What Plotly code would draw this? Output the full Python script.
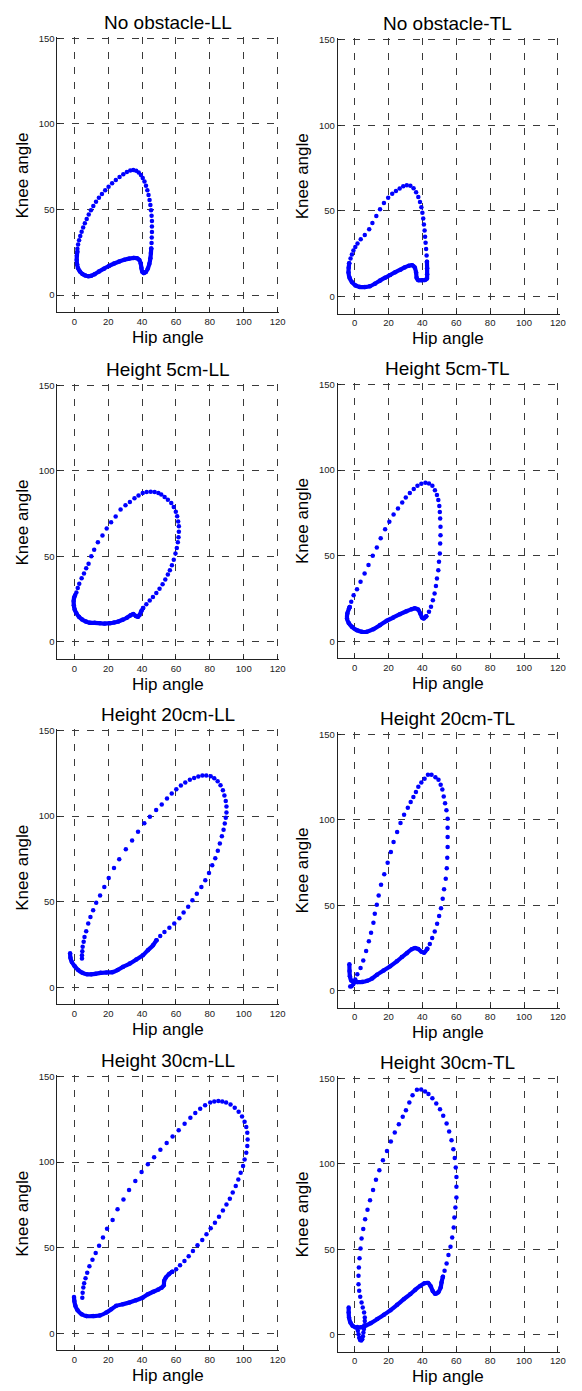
import plotly.graph_objects as go

TITLES = ["No obstacle-LL", "No obstacle-TL", "Height 5cm-LL", "Height 5cm-TL",
          "Height 20cm-LL", "Height 20cm-TL", "Height 30cm-LL", "Height 30cm-TL"]
X_TICKS = [0, 20, 40, 60, 80, 100, 120]
Y_TICKS = [0, 50, 100, 150]
X_LABEL = "Hip angle"
Y_LABEL = "Knee angle"

# ---- Panel 1: No obstacle-LL ----
P1_SWING_HIP = [1.8, 2.2, 2.8, 3.5, 4.3, 5.2, 6.2, 7.3, 8.5, 9.8, 11.2, 12.8, 14.5, 16.3, 18.2, 20.2,
                22.3, 24.5, 26.7, 28.9, 31.0, 33.0, 34.8, 36.5, 38.0, 39.3, 40.4, 41.4, 42.3, 43.1,
                43.8, 44.4, 44.9, 45.3, 45.6, 45.8, 45.8, 45.8, 45.7, 45.6, 45.4]
P1_SWING_KNEE = [27.0, 29.5, 32.0, 34.5, 37.0, 39.5, 42.0, 44.5, 47.0, 49.5, 52.0, 54.5, 56.8, 59.0, 61.2, 63.3,
                 65.3, 67.2, 69.0, 70.6, 71.9, 72.8, 73.0, 72.6, 71.6, 70.2, 68.4, 66.3, 63.9, 61.3,
                 58.5, 55.6, 52.6, 49.5, 46.4, 43.2, 40.0, 36.8, 33.6, 30.4, 27.2]
P1_STANCE_HIP = [45.4, 45.2, 44.9, 44.3, 43.4, 42.2, 41.0, 40.1, 39.6, 39.2, 38.4, 37.0, 35.0, 32.5, 29.5,
                 26.5, 23.5, 20.5, 17.5, 14.5, 12.0, 10.0, 8.2, 6.5, 4.8, 3.3, 2.2, 1.6, 1.4, 1.5, 1.8]
P1_STANCE_KNEE = [27.2, 24.5, 21.5, 18.3, 15.5, 13.4, 12.8, 13.6, 15.8, 18.4, 20.5, 21.5, 21.7, 21.3, 20.6,
                  19.6, 18.4, 17.0, 15.4, 13.7, 12.2, 11.3, 11.0, 11.4, 12.3, 13.7, 15.6, 18.0, 20.5, 23.0, 25.5]

# ---- Panel 2: No obstacle-TL ----
P2_SWING_HIP = [-3.2, -2.4, -1.6, -0.7, 0.4, 1.7, 3.6, 6.0, 8.6, 10.5, 12.8, 15.0, 17.3, 19.8, 22.2, 24.4,
                26.6, 28.7, 30.8, 32.9, 34.8, 36.3, 37.6, 38.6, 39.4, 40.0, 40.5, 40.9, 41.3, 41.6, 41.9,
                42.2, 42.5, 42.7]
P2_SWING_KNEE = [19.5, 22.2, 24.6, 26.9, 29.0, 31.0, 33.4, 36.0, 39.3, 43.0, 47.0, 51.0, 54.7, 57.8, 60.0, 61.7,
                 63.2, 64.4, 65.1, 64.8, 63.3, 61.0, 58.2, 55.3, 52.2, 49.0, 45.6, 42.1, 38.6, 35.0, 31.4,
                 27.7, 24.0, 20.3]
P2_STANCE_HIP = [42.7, 42.8, 42.8, 42.7, 41.5, 39.5, 37.5, 36.6, 36.3, 35.5, 34.0, 32.0, 29.5, 27.0, 24.0, 21.0,
                 18.0, 15.0, 12.0, 9.0, 6.0, 3.0, 0.5, -1.5, -3.0, -3.6, -3.5, -3.2]
P2_STANCE_KNEE = [20.3, 16.5, 13.0, 10.5, 9.6, 9.5, 9.6, 11.0, 14.0, 17.0, 18.3, 18.0, 17.0, 15.7, 14.2, 12.6,
                  11.0, 9.3, 7.5, 6.0, 5.5, 5.6, 6.5, 8.3, 11.0, 14.0, 16.8, 19.5]

# ---- Panel 3: Height 5cm-LL ----
P3_SWING_HIP = [1.2, 2.0, 2.9, 4.3, 5.7, 7.0, 8.4, 10.0, 11.7, 13.9, 16.6, 19.1, 21.7, 24.4, 27.3, 30.2,
                32.8, 35.5, 37.9, 40.4, 42.7, 45.1, 47.4, 49.6, 51.3, 53.3, 55.2, 57.2, 58.7, 59.9, 60.7,
                61.3, 61.7, 61.7, 61.5, 61.1, 60.5, 59.7, 58.7, 57.6, 56.4, 55.2, 53.7, 52.1, 50.3, 48.4,
                46.4, 44.5, 42.5, 40.6]
P3_SWING_KNEE = [29.0, 31.6, 34.1, 37.2, 40.0, 43.1, 45.8, 50.1, 54.0, 58.3, 62.2, 66.3, 70.0, 73.3, 77.4, 79.9,
                 81.9, 84.0, 85.6, 87.1, 87.7, 87.9, 87.7, 87.1, 86.2, 84.8, 83.2, 81.3, 78.9, 76.2, 73.5,
                 70.4, 67.6, 64.5, 61.2, 58.3, 55.0, 51.7, 48.1, 44.8, 41.9, 39.4, 36.5, 33.7, 31.2, 28.7,
                 26.3, 24.2, 22.0, 19.9]
P3_STANCE_HIP = [40.6, 39.5, 38.6, 37.6, 36.3, 34.8, 33.2, 31.0, 28.5, 26.0, 23.5, 21.0, 18.0, 15.0, 12.0, 9.0,
                 6.8, 4.6, 2.7, 1.2, 0.2, -0.3, -0.4, -0.1, 0.5]
P3_STANCE_KNEE = [19.9, 18.0, 16.0, 14.7, 15.2, 16.3, 15.6, 14.2, 13.0, 12.0, 11.4, 11.0, 10.8, 11.0, 11.2, 11.3,
                  12.0, 13.2, 14.8, 16.8, 19.0, 21.5, 24.0, 26.0, 27.5]

# ---- Panel 4: Height 5cm-TL ----
P4_SWING_HIP = [-2.9, -2.0, -0.6, 1.4, 3.5, 5.9, 8.2, 10.7, 13.1, 15.4, 18.0, 20.5, 23.0, 25.6, 28.1, 30.2,
                32.6, 34.9, 37.1, 39.4, 41.8, 43.9, 45.9, 47.4, 48.6, 49.4, 50.0, 50.3, 50.5, 50.7, 50.7,
                50.5, 50.3, 49.8, 49.4, 48.6, 48.0, 47.2, 46.2, 45.1, 43.9, 42.3]
P4_SWING_KNEE = [20.0, 23.0, 26.9, 30.4, 34.7, 39.6, 44.6, 49.9, 54.8, 60.2, 65.5, 69.8, 74.1, 77.6, 81.1, 84.0,
                 86.7, 88.9, 90.8, 92.0, 92.6, 92.2, 90.8, 88.3, 85.4, 82.5, 79.1, 75.6, 71.7, 66.9, 62.0,
                 57.1, 51.2, 46.4, 41.5, 36.6, 32.2, 27.9, 24.0, 20.1, 17.2, 14.6]
P4_STANCE_HIP = [42.3, 40.8, 39.8, 38.8, 37.5, 35.5, 33.6, 30.6, 26.7, 22.8, 18.9, 15.0, 11.1, 7.2, 4.3, 1.4,
                 -1.6, -3.5, -4.5, -4.3, -3.3, -2.9]
P4_STANCE_KNEE = [14.6, 13.3, 13.8, 16.2, 18.5, 19.2, 18.7, 17.5, 15.8, 13.8, 11.9, 9.4, 7.0, 5.5, 5.5, 6.4,
                  8.4, 10.7, 13.3, 16.2, 19.1, 20.0]

# ---- Panel 5: Height 20cm-LL ----
P5_SWING_HIP = [4.5, 4.5, 4.7, 4.9, 5.5, 6.0, 7.0, 8.2, 9.5, 11.1, 12.9, 15.2, 17.7, 20.3, 23.4, 26.5, 30.4,
                34.1, 37.6, 41.3, 44.6, 48.3, 51.6, 54.7, 57.5, 60.2, 62.9, 65.5, 68.2, 70.7, 73.2, 75.6,
                77.9, 80.5, 82.6, 84.6, 86.3, 87.7, 88.6, 89.4, 89.8, 89.8, 89.4, 88.8, 88.1, 87.1, 85.9,
                84.7, 83.2, 81.4, 79.5, 77.3, 75.0, 72.3, 69.7, 67.2, 64.5, 62.0, 59.0, 56.1, 53.2, 50.7,
                48.5]
P5_SWING_KNEE = [16.8, 18.7, 21.0, 23.6, 26.5, 29.4, 32.7, 37.2, 41.1, 45.0, 49.3, 53.6, 58.6, 63.9, 69.7, 74.8,
                 80.6, 85.7, 90.8, 95.8, 99.7, 103.6, 106.8, 110.3, 113.2, 115.7, 117.9, 119.6, 121.2, 122.3,
                 123.1, 123.7, 123.7, 123.3, 122.2, 120.4, 118.1, 115.1, 112.0, 108.9, 105.6, 102.1, 99.0,
                 95.7, 92.1, 88.3, 84.0, 79.7, 75.4, 71.3, 66.8, 62.5, 58.6, 54.7, 50.8, 47.0, 43.6, 40.3,
                 37.2, 34.7, 32.3, 30.0, 27.5]
P5_STANCE_HIP = [48.5, 46.4, 43.4, 40.5, 36.6, 32.7, 28.8, 25.5, 22.5, 19.0, 15.5, 12.5, 10.0, 7.4, 4.8, 2.3,
                 0.2, -1.5, -2.3, -2.5]
P5_STANCE_KNEE = [27.5, 24.5, 21.6, 18.7, 16.2, 13.8, 11.9, 10.0, 8.8, 8.6, 8.4, 7.8, 7.5, 7.6, 8.4, 10.0,
                  12.3, 14.8, 17.2, 19.8]

# ---- Panel 6: Height 20cm-TL ----
P6_SWING_HIP = [-2.6, -1.8, -0.8, 0.4, 1.6, 3.5, 5.1, 6.8, 8.4, 9.7, 11.1, 11.9, 13.1, 14.2, 15.6, 17.5, 19.5,
                21.4, 23.0, 25.1, 27.1, 29.2, 31.4, 33.1, 34.7, 36.2, 37.6, 39.4, 41.3, 43.3, 45.4, 47.7,
                49.5, 50.8, 51.8, 52.6, 53.4, 54.2, 54.9, 54.9, 54.9, 54.9, 54.7, 54.4, 53.8, 52.8, 52.0,
                51.0, 49.9, 48.7, 47.3, 45.8, 44.4, 42.9]
P6_SWING_KNEE = [2.5, 2.6, 3.8, 6.6, 9.6, 13.3, 17.7, 23.2, 29.0, 33.9, 39.8, 45.0, 50.3, 55.7, 62.0, 68.2, 74.9,
                 81.1, 87.0, 92.8, 98.1, 102.9, 107.0, 110.3, 113.3, 116.2, 119.3, 121.7, 124.0, 126.3,
                 126.3, 124.9, 123.4, 120.5, 117.7, 113.6, 109.7, 105.5, 100.6, 95.3, 89.9, 84.0, 77.8,
                 71.7, 65.5, 59.3, 53.8, 48.3, 43.7, 39.2, 34.7, 30.8, 27.3, 24.6]
P6_STANCE_HIP = [42.9, 41.0, 39.5, 37.6, 35.7, 33.7, 30.8, 27.9, 24.9, 21.0, 17.1, 13.2, 10.3, 7.4, 4.5, 1.6,
                 -0.4, -2.0, -2.8, -3.0, -3.1]
P6_STANCE_KNEE = [24.6, 22.3, 22.8, 24.4, 25.0, 24.3, 22.0, 19.7, 17.2, 14.4, 11.9, 9.4, 7.2, 5.8, 5.2, 5.1,
                  5.3, 6.0, 8.5, 11.5, 15.5]

# ---- Panel 7: Height 30cm-LL ----
P7_SWING_HIP = [4.7, 4.9, 5.3, 5.8, 6.6, 7.6, 8.9, 10.7, 12.6, 14.6, 16.9, 19.3, 22.6, 25.5, 29.0, 32.3, 36.0,
                39.7, 43.4, 47.1, 50.8, 54.5, 58.0, 61.6, 65.1, 68.5, 71.4, 74.3, 77.2, 80.2, 82.6, 85.0,
                87.3, 89.6, 92.2, 94.7, 97.0, 99.0, 100.5, 101.5, 102.1, 102.3, 102.1, 101.5, 100.5, 99.6,
                98.2, 96.8, 95.3, 93.5, 91.8, 89.8, 87.7, 85.4, 83.0, 80.5, 78.0, 75.5, 72.7, 70.0, 67.5,
                65.0, 62.4, 60.1, 57.8]
P7_SWING_KNEE = [20.8, 23.7, 26.7, 29.2, 32.1, 35.4, 39.1, 43.0, 46.9, 51.2, 55.9, 61.1, 66.2, 72.4, 78.1, 83.7,
                 89.0, 94.2, 98.7, 102.9, 107.2, 111.2, 115.0, 118.6, 122.4, 125.9, 128.7, 131.2, 133.3,
                 134.9, 135.5, 135.7, 135.5, 134.9, 133.7, 131.8, 129.5, 126.7, 123.6, 120.5, 117.2, 113.3,
                 109.4, 105.5, 101.6, 97.7, 93.8, 89.9, 86.0, 82.2, 78.6, 75.3, 71.8, 68.1, 64.6, 61.3,
                 57.8, 54.5, 51.4, 48.1, 45.0, 42.2, 39.7, 37.4, 36.0]
P7_STANCE_HIP = [57.8, 55.8, 54.0, 53.0, 52.8, 51.5, 49.5, 46.5, 43.5, 40.3, 36.4, 32.5, 28.6, 24.7, 21.8, 18.9,
                 15.0, 11.1, 7.2, 4.3, 1.9, 0.6, 0.0, -0.2]
P7_STANCE_KNEE = [36.0, 34.5, 32.5, 30.5, 28.0, 26.6, 25.5, 24.2, 22.8, 20.8, 19.3, 17.9, 16.9, 16.0, 14.0, 12.1,
                  10.3, 10.0, 10.0, 11.1, 13.4, 16.0, 18.9, 21.2]

# ---- Panel 8: Height 30cm-TL ----
P8_SWING_HIP = [1.6, 1.9, 2.3, 2.7, 3.2, 3.9, 4.5, 4.9, 5.2, 5.5, 5.8, 6.0, 6.0, 5.6, 4.8, 4.1, 3.3, 2.7, 2.3,
                2.3, 2.5, 2.9, 3.5, 4.1, 5.1, 6.2, 7.6, 9.1, 10.9, 12.6, 14.6, 16.7, 19.1, 21.4, 23.7, 26.1,
                28.4, 30.3, 32.3, 34.2, 36.8, 39.3, 41.6, 43.6, 45.9, 48.2, 50.4, 52.3, 54.3, 55.8, 57.2,
                58.3, 59.1, 59.7, 60.1, 60.1, 60.1, 59.5, 58.9, 58.5, 57.6, 56.6, 55.4, 54.3, 53.1, 52.1]
P8_SWING_KNEE = [4.6, 2.4, 0.3, -1.7, -3.0, -3.4, -2.6, -0.8, 1.3, 3.4, 5.6, 8.0, 10.1, 13.1, 16.0, 18.9, 22.2,
                 25.7, 29.6, 34.5, 39.4, 44.8, 50.4, 56.3, 61.8, 67.6, 73.1, 78.7, 84.7, 90.6, 96.2, 102.1,
                 107.5, 113.0, 118.3, 123.1, 127.4, 131.3, 135.8, 140.1, 143.2, 143.4, 142.2, 140.7, 138.3,
                 135.2, 131.9, 128.0, 123.5, 118.8, 113.8, 108.5, 103.3, 97.8, 92.3, 86.5, 80.3, 74.4,
                 68.6, 62.7, 56.9, 51.4, 46.6, 41.7, 37.4, 33.9]
P8_STANCE_HIP = [52.1, 51.3, 50.8, 49.4, 47.5, 46.1, 44.9, 43.4, 41.2, 38.7, 35.8, 32.9, 29.0, 25.1, 21.2, 17.3,
                 13.4, 9.5, 6.6, 3.7, 0.8, -1.2, -2.5, -3.3, -3.5, -3.5]
P8_STANCE_KNEE = [33.9, 30.6, 27.7, 24.9, 24.0, 25.6, 28.4, 30.3, 30.1, 28.6, 26.3, 23.8, 20.8, 17.5, 14.4, 11.7,
                  9.2, 6.8, 5.4, 4.4, 4.3, 5.3, 7.2, 10.1, 13.1, 16.0]

PANELS = [
    (P1_SWING_HIP, P1_SWING_KNEE, P1_STANCE_HIP, P1_STANCE_KNEE),
    (P2_SWING_HIP, P2_SWING_KNEE, P2_STANCE_HIP, P2_STANCE_KNEE),
    (P3_SWING_HIP, P3_SWING_KNEE, P3_STANCE_HIP, P3_STANCE_KNEE),
    (P4_SWING_HIP, P4_SWING_KNEE, P4_STANCE_HIP, P4_STANCE_KNEE),
    (P5_SWING_HIP, P5_SWING_KNEE, P5_STANCE_HIP, P5_STANCE_KNEE),
    (P6_SWING_HIP, P6_SWING_KNEE, P6_STANCE_HIP, P6_STANCE_KNEE),
    (P7_SWING_HIP, P7_SWING_KNEE, P7_STANCE_HIP, P7_STANCE_KNEE),
    (P8_SWING_HIP, P8_SWING_KNEE, P8_STANCE_HIP, P8_STANCE_KNEE),
]

# ---- layout (pixel geometry of each axes box) ----
W, H = 582, 1391
PX_PER_UNIT_X = 222.5 / 130.0
PX_PER_UNIT_Y = 274.5 / 160.0
X_RANGE = [-10, 121]          # a little headroom so the 120 grid line is kept
Y_RANGE = [-10, 151]          # a little headroom so the 150 grid line is kept
COL_LEFT = [58.0, 341.2]
PANEL_TOP = [34.5, 36.0, 382.5, 381.7, 728.7, 732.3, 1075.7, 1077.3]   # pixel y of value 150
PLOT_W = (X_RANGE[1] - X_RANGE[0]) * PX_PER_UNIT_X
PLOT_H = (Y_RANGE[1] - Y_RANGE[0]) * PX_PER_UNIT_Y
TOP_PAD = (Y_RANGE[1] - 150) * PX_PER_UNIT_Y

BLUE = "#0000ff"
FONT = "Liberation Sans, Arial, sans-serif"

fig = go.Figure()
annotations = []
layout_axes = {}

for i, (sh, sk, th, tk) in enumerate(PANELS):
    n = i + 1
    xa = "x" if n == 1 else f"x{n}"
    ya = "y" if n == 1 else f"y{n}"
    x0 = COL_LEFT[i % 2]
    x1 = x0 + PLOT_W
    top = PANEL_TOP[i] - TOP_PAD
    bot = top + PLOT_H
    vis_right = x0 + 130 * PX_PER_UNIT_X
    fig.add_trace(go.Scatter(x=th, y=tk, xaxis=xa, yaxis=ya, mode="lines+markers",
                             line=dict(color=BLUE, width=4.2, shape="spline", smoothing=0.8),
                             marker=dict(color=BLUE, size=4.5), showlegend=False, hoverinfo="x+y"))
    fig.add_trace(go.Scatter(x=sh, y=sk, xaxis=xa, yaxis=ya, mode="markers",
                             marker=dict(color=BLUE, size=4.5), showlegend=False, hoverinfo="x+y"))
    common = dict(showgrid=True, gridcolor="#3a3a3a", gridwidth=1, griddash="7px,8px",
                  zeroline=False, showline=True, linecolor="#222", linewidth=1, mirror=False,
                  ticks="inside", ticklen=3, tickcolor="#222",
                  tickfont=dict(family=FONT, size=9.5, color="#222"), fixedrange=True)
    layout_axes["xaxis" if n == 1 else f"xaxis{n}"] = dict(
        domain=[x0 / W, x1 / W], range=X_RANGE, tickvals=X_TICKS, anchor=ya, **common)
    layout_axes["yaxis" if n == 1 else f"yaxis{n}"] = dict(
        domain=[1 - bot / H, 1 - top / H], range=Y_RANGE, tickvals=Y_TICKS, anchor=xa, **common)
    cx = (x0 + vis_right) / 2 / W
    vis_top = PANEL_TOP[i]
    annotations.append(dict(text=TITLES[i], x=cx, y=1 - (vis_top - 16) / H, xref="paper", yref="paper",
                            xanchor="center", yanchor="middle", showarrow=False,
                            font=dict(family=FONT, size=19, color="#000")))
    annotations.append(dict(text=X_LABEL, x=cx, y=1 - (bot + 25) / H, xref="paper", yref="paper",
                            xanchor="center", yanchor="middle", showarrow=False,
                            font=dict(family=FONT, size=17, color="#000")))
    annotations.append(dict(text=Y_LABEL, x=(x0 - 35.5) / W, y=1 - (vis_top + bot) / 2 / H,
                            xref="paper", yref="paper", xanchor="center", yanchor="middle",
                            textangle=-90, showarrow=False,
                            font=dict(family=FONT, size=17, color="#000")))

fig.update_layout(width=W, height=H, margin=dict(l=0, r=0, t=0, b=0),
                  paper_bgcolor="white", plot_bgcolor="white",
                  annotations=annotations, **layout_axes)

fig.write_html("out.html")
